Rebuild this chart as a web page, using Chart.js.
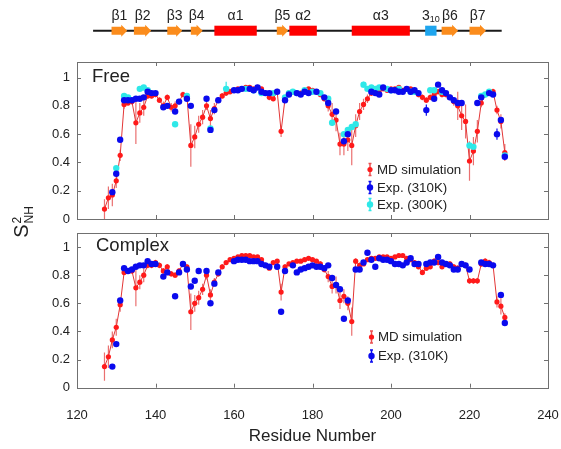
<!DOCTYPE html>
<html>
<head>
<meta charset="utf-8">
<script src="https://cdn.jsdelivr.net/npm/chart.js@4.4.1/dist/chart.umd.min.js"></script>
<style>
  body { margin: 0; background: #fff; }
  #wrap { position: relative; width: 561px; height: 449px; overflow: hidden;
          font-family: "Liberation Sans", Arial, sans-serif; color: #222; }
  canvas { position: absolute; left: 0; }
  .lbl { position: absolute; white-space: nowrap; line-height: 1; }
  .ssl { top: 8px; font-size: 14px; transform: translateX(-50%); }
  .ssl sub { font-size: 9px; vertical-align: -2px; }
  .panel { font-size: 18.5px; }
  .leg { font-size: 13.3px; }
  #ylab { left: 23px; top: 222px; font-size: 20px; transform: translate(-50%, -50%) rotate(-90deg); }
  #ylab .ss { display: inline-block; vertical-align: -5px; font-size: 12px; line-height: 1; text-align: left; margin-left: 1px; }
  #ylab .ss span { display: block; }
</style>
</head>
<body>
<div id="wrap">
  <canvas id="ss" width="561" height="50" style="top:0"></canvas>
  <canvas id="free" width="561" height="172" style="top:52px"></canvas>
  <canvas id="cplx" width="561" height="223" style="top:226px"></canvas>

  <div class="lbl panel" style="left:92px;top:67px">Free</div>
  <div class="lbl panel" style="left:96px;top:236px">Complex</div>

  <div class="lbl leg" style="left:377px;top:163px">MD simulation</div>
  <div class="lbl leg" style="left:377px;top:181px">Exp. (310K)</div>
  <div class="lbl leg" style="left:377px;top:198px">Exp. (300K)</div>
  <div class="lbl leg" style="left:378px;top:330px">MD simulation</div>
  <div class="lbl leg" style="left:378px;top:349px">Exp. (310K)</div>

  <div id="ylab" class="lbl">S<span class="ss"><span>2</span><span>NH</span></span></div>
</div>
<script>
// residue axis
const xTicks = [120, 140, 160, 180, 200, 220, 240];
const yTicks = [0, 0.2, 0.4, 0.6, 0.8, 1];

// secondary structure
const ssNames = ['β1', 'β2', 'β3', 'β4', 'α1', 'β5', 'α2', 'α3', '3<sub>10</sub>', 'β6', 'β7'];
const ssStart = [128.8, 134.5, 143.0, 149.0, 155.0, 170.9, 174.1, 190.0, 208.7, 212.9, 220.0];
const ssEnd   = [132.8, 138.9, 146.8, 152.0, 165.8, 173.8, 181.1, 204.8, 211.6, 217.1, 224.2];
const ssKind  = ['strand', 'strand', 'strand', 'strand', 'helix', 'strand', 'helix', 'helix', '310', 'strand', 'strand'];
const chainRange = [124.1, 228.2];

// MD simulation, residues 127-229
const mdRes = [
  127,128,129,130,131,132,133,134,135,136,
  137,138,139,140,141,142,143,144,145,146,
  147,148,149,150,151,152,153,154,155,156,
  157,158,159,160,161,162,163,164,165,166,
  167,168,169,170,171,172,173,174,175,176,
  177,178,179,180,181,182,183,184,185,186,
  187,188,189,190,191,192,193,194,195,196,
  197,198,199,200,201,202,203,204,205,206,
  207,208,209,210,211,212,213,214,215,216,
  217,218,219,220,221,222,223,224,225,226,
  227,228,229
];
const mdFree = [
  0.07,0.15,0.17,0.27,0.45,0.81,0.82,0.83,0.68,0.75,
  0.79,0.87,0.87,0.88,0.84,0.80,0.86,0.79,0.80,0.83,
  0.88,0.87,0.52,0.58,0.67,0.72,0.80,0.71,0.78,0.84,
  0.87,0.89,0.90,0.91,0.92,0.92,0.93,0.93,0.92,0.93,
  0.92,0.89,0.86,0.85,0.90,0.62,0.85,0.89,0.90,0.89,
  0.89,0.91,0.92,0.91,0.90,0.88,0.85,0.80,0.74,0.70,
  0.53,0.53,0.56,0.52,0.66,0.76,0.81,0.85,0.89,0.91,
  0.91,0.92,0.91,0.92,0.92,0.93,0.91,0.92,0.92,0.91,
  0.88,0.86,0.84,0.86,0.88,0.90,0.88,0.88,0.86,0.83,
  0.80,0.73,0.69,0.41,0.48,0.62,0.82,0.88,0.89,0.90,
  0.77,0.69,0.47
];
const mdFreeErr = [
  0.07,0.08,0.08,0.05,0.04,0.03,0.02,0.02,0.15,0.07,
  0.06,0.02,0.02,0.02,0.02,0.03,0.02,0.03,0.03,0.02,
  0.02,0.02,0.15,0.08,0.06,0.05,0.03,0.06,0.04,0.02,
  0.02,0.02,0.02,0.01,0.01,0.01,0.01,0.01,0.01,0.01,
  0.01,0.02,0.02,0.02,0.02,0.04,0.02,0.01,0.01,0.01,
  0.01,0.01,0.01,0.01,0.01,0.02,0.02,0.04,0.08,0.08,
  0.08,0.08,0.08,0.14,0.08,0.06,0.04,0.03,0.02,0.01,
  0.01,0.01,0.01,0.01,0.01,0.01,0.01,0.01,0.01,0.01,
  0.02,0.02,0.02,0.02,0.02,0.02,0.02,0.02,0.02,0.03,
  0.10,0.10,0.12,0.14,0.10,0.08,0.03,0.02,0.02,0.02,
  0.03,0.05,0.06
];
const mdCplx = [
  0.15,0.22,0.34,0.43,0.59,0.82,0.83,0.83,0.71,0.75,
  0.80,0.87,0.87,0.89,0.87,0.83,0.86,0.81,0.80,0.83,
  0.88,0.86,0.54,0.60,0.64,0.70,0.80,0.66,0.75,0.81,
  0.86,0.89,0.91,0.92,0.93,0.94,0.94,0.94,0.93,0.93,
  0.91,0.87,0.85,0.89,0.90,0.68,0.86,0.88,0.89,0.90,
  0.90,0.91,0.92,0.91,0.90,0.88,0.84,0.79,0.72,0.73,
  0.62,0.65,0.60,0.47,0.90,0.87,0.88,0.91,0.92,0.92,
  0.93,0.93,0.93,0.92,0.93,0.94,0.94,0.92,0.91,0.89,
  0.86,0.82,0.85,0.86,0.90,0.89,0.86,0.88,0.88,0.86,
  0.85,0.88,0.87,0.76,0.76,0.76,0.88,0.90,0.89,0.87,
  0.61,0.58,0.50
];
const mdCplxErr = [
  0.10,0.08,0.06,0.06,0.05,0.02,0.02,0.02,0.13,0.05,
  0.05,0.02,0.02,0.02,0.02,0.02,0.02,0.02,0.02,0.02,
  0.02,0.02,0.13,0.06,0.05,0.04,0.03,0.04,0.03,0.02,
  0.02,0.01,0.01,0.01,0.01,0.01,0.01,0.01,0.01,0.01,
  0.01,0.01,0.01,0.01,0.01,0.06,0.02,0.01,0.01,0.01,
  0.01,0.01,0.01,0.01,0.01,0.02,0.02,0.04,0.05,0.06,
  0.06,0.05,0.05,0.10,0.02,0.02,0.01,0.01,0.01,0.01,
  0.01,0.01,0.01,0.01,0.01,0.01,0.01,0.01,0.01,0.01,
  0.02,0.02,0.02,0.02,0.02,0.02,0.02,0.02,0.02,0.02,
  0.02,0.02,0.02,0.02,0.02,0.02,0.02,0.02,0.02,0.02,
  0.04,0.06,0.03
];

// experiment, free, 310K
const expFree310Res = [129,130,131,132,133,134,135,136,137,138,139,140,142,143,145,146,148,149,153,154,155,156,
  160,161,162,164,165,166,167,168,169,171,173,174,176,177,178,179,181,183,184,186,188,189,
  195,196,197,198,200,201,202,203,204,205,206,207,209,211,212,213,214,215,216,217,218,222,223,225,226,227,228,229];
const expFree310 = [0.19,0.32,0.56,0.84,0.84,0.84,0.85,0.85,0.86,0.90,0.89,0.89,0.79,0.80,0.76,0.83,0.85,0.80,0.85,0.63,0.77,0.84,
  0.91,0.91,0.92,0.92,0.91,0.93,0.90,0.89,0.89,0.90,0.84,0.88,0.89,0.88,0.90,0.89,0.90,0.86,0.82,0.76,0.55,0.60,
  0.90,0.89,0.88,0.93,0.91,0.91,0.90,0.90,0.92,0.90,0.91,0.89,0.77,0.85,0.95,0.91,0.89,0.86,0.84,0.82,0.82,0.82,0.86,0.89,0.88,0.60,0.70,0.44];

// experiment, free, 300K
const expFree300Res = [130,132,133,136,137,138,145,148,154,158,163,165,167,170,173,174,175,176,178,180,182,184,185,
  188,189,190,191,193,194,195,196,197,199,200,202,205,206,210,211,213,220,221,223,224,225,229];
const expFree300 = [0.36,0.87,0.86,0.92,0.93,0.91,0.67,0.87,0.64,0.92,0.92,0.91,0.89,0.89,0.86,0.89,0.90,0.89,0.91,0.90,0.89,0.85,0.68,
  0.60,0.63,0.65,0.67,0.95,0.92,0.93,0.92,0.93,0.92,0.91,0.92,0.90,0.90,0.91,0.91,0.90,0.52,0.51,0.87,0.88,0.90,0.45];

// experiment, complex, 310K
const expCplx310Res = [129,130,131,132,133,134,135,136,137,138,139,140,142,143,145,146,147,148,149,150,151,153,154,155,156,
  160,161,162,163,164,165,166,167,168,169,171,172,173,175,176,177,178,179,180,181,182,183,184,185,186,187,188,189,
  191,192,193,194,195,196,197,198,199,200,201,202,203,204,205,206,207,209,210,211,212,213,214,215,216,217,218,219,220,
  223,224,225,226,228,229];
const expCplx310 = [0.15,0.31,0.62,0.85,0.83,0.84,0.86,0.87,0.87,0.90,0.88,0.88,0.79,0.82,0.65,0.82,0.88,0.84,0.72,0.76,0.83,0.83,0.60,0.74,0.82,
  0.90,0.91,0.91,0.91,0.90,0.90,0.90,0.88,0.87,0.86,0.86,0.54,0.83,0.87,0.82,0.84,0.85,0.86,0.87,0.86,0.86,0.85,0.87,0.78,0.73,0.70,0.49,0.62,
  0.84,0.84,0.89,0.96,0.91,0.86,0.92,0.91,0.91,0.90,0.88,0.88,0.87,0.89,0.92,0.88,0.88,0.88,0.89,0.89,0.93,0.89,0.88,0.87,0.84,0.84,0.88,0.87,0.84,
  0.89,0.88,0.88,0.87,0.66,0.46];

// a few visible experimental error bars
const expFree310ErrRes = [209, 227, 154];
const expFree310ErrVal = [0.04, 0.04, 0.02];
const expFree300ErrRes = [158, 193];
const expFree300ErrVal = [0.05, 0.02];

const FONT = "'Liberation Sans', Arial, sans-serif";
const RED = '#ff1a1a', BLUE = '#0a0aee', CYAN = '#2ee8e8';

function pts(xs, ys) { return xs.map((x, i) => ({ x: x, y: ys[i] })); }
function sparseErr(xs, errRes, errVal) {
  return xs.map((x) => { const k = errRes.indexOf(x); return k >= 0 ? errVal[k] : 0; });
}

const errPlugin = {
  id: 'errbars',
  beforeDatasetsDraw(chart) {
    const ctx = chart.ctx, y = chart.scales.y;
    chart.data.datasets.forEach((ds, i) => {
      if (!ds.errs) return;
      const meta = chart.getDatasetMeta(i);
      ctx.save();
      ctx.strokeStyle = ds.errColor;
      ctx.lineWidth = 1.2;
      ctx.beginPath();
      ds.data.forEach((p, j) => {
        const e = ds.errs[j];
        if (!e) return;
        const px = meta.data[j].x;
        ctx.moveTo(px, y.getPixelForValue(p.y - e));
        ctx.lineTo(px, y.getPixelForValue(p.y + e));
      });
      ctx.stroke();
      ctx.restore();
    });
  }
};

const framePlugin = {
  id: 'frame',
  afterDraw(chart) {
    const { ctx, chartArea: a, scales: { x, y } } = chart;
    ctx.save();
    ctx.strokeStyle = '#707070';
    ctx.lineWidth = 1;
    ctx.strokeRect(Math.round(a.left) + 0.5, Math.round(a.top) + 0.5,
                   Math.round(a.right - a.left), Math.round(a.bottom - a.top));
    ctx.beginPath();
    xTicks.forEach((v) => {
      const px = Math.round(x.getPixelForValue(v)) + 0.5;
      ctx.moveTo(px, a.bottom); ctx.lineTo(px, a.bottom - 4);
      ctx.moveTo(px, a.top); ctx.lineTo(px, a.top + 4);
    });
    yTicks.forEach((v) => {
      const py = Math.round(y.getPixelForValue(v)) + 0.5;
      ctx.moveTo(a.left, py); ctx.lineTo(a.left + 4, py);
      ctx.moveTo(a.right, py); ctx.lineTo(a.right - 4, py);
    });
    ctx.stroke();
    // legend markers
    const items = (chart.options.plugins.markers || {}).items || [];
    items.forEach((m) => {
      ctx.strokeStyle = m.bar;
      ctx.lineWidth = 1.5;
      ctx.beginPath();
      ctx.moveTo(m.x, m.y - 6); ctx.lineTo(m.x, m.y + 6);
      ctx.moveTo(m.x - 1.5, m.y - 6); ctx.lineTo(m.x + 1.5, m.y - 6);
      ctx.moveTo(m.x - 1.5, m.y + 6); ctx.lineTo(m.x + 1.5, m.y + 6);
      ctx.stroke();
      ctx.fillStyle = m.color;
      ctx.beginPath();
      ctx.arc(m.x, m.y, m.r, 0, Math.PI * 2);
      ctx.fill();
    });
    ctx.restore();
  }
};

function yScale(max) {
  return {
    min: 0, max: max,
    afterBuildTicks: (s) => { s.ticks = yTicks.map((v) => ({ value: v })); },
    afterFit: (s) => { s.width = 77; s.paddingTop = 0; s.paddingBottom = 0; },
    ticks: { font: { family: FONT, size: 13 }, color: '#222', padding: 7, callback: (v) => String(v) },
    grid: { display: false, drawTicks: false },
    border: { display: false }
  };
}

function mdSet(vals, errs) {
  return {
    data: pts(mdRes, vals), showLine: true, borderColor: '#e33636', borderWidth: 1,
    pointRadius: 2.6, pointBackgroundColor: RED, pointBorderWidth: 0, order: 3,
    errs: errs, errColor: '#ea7070'
  };
}
function expSet(xs, vals, color, order, errs) {
  return {
    data: pts(xs, vals), showLine: false, pointRadius: 3.2, pointBackgroundColor: color,
    pointBorderWidth: 0, order: order, errs: errs, errColor: color
  };
}

// secondary-structure strip
const ssChart = new Chart(document.getElementById('ss'), {
  type: 'scatter',
  data: { datasets: [{
    data: [{ x: chainRange[0], y: 0 }, { x: chainRange[1], y: 0 }],
    showLine: true, borderColor: '#1a1a1a', borderWidth: 2, pointRadius: 0
  }] },
  options: {
    responsive: false, animation: false,
    layout: { padding: { left: 77, right: 13, top: 20, bottom: 8.6 } },
    plugins: { legend: { display: false }, tooltip: { enabled: false } },
    scales: {
      x: { type: 'linear', min: 120, max: 240, display: false },
      y: { min: -1, max: 1, display: false }
    }
  },
  plugins: [{
    id: 'ssShapes',
    afterDatasetsDraw(chart) {
      const { ctx, scales: { x, y } } = chart;
      const cy = y.getPixelForValue(0);
      ssKind.forEach((k, i) => {
        const x0 = x.getPixelForValue(ssStart[i]), x1 = x.getPixelForValue(ssEnd[i]);
        ctx.save();
        if (k === 'strand') {
          const head = 6;
          ctx.fillStyle = '#fb8c1c';
          ctx.beginPath();
          ctx.moveTo(x0, cy - 4); ctx.lineTo(x1 - head, cy - 4); ctx.lineTo(x1 - head, cy - 6);
          ctx.lineTo(x1, cy); ctx.lineTo(x1 - head, cy + 6); ctx.lineTo(x1 - head, cy + 4);
          ctx.lineTo(x0, cy + 4); ctx.closePath();
          ctx.fill();
        } else {
          ctx.fillStyle = k === 'helix' ? '#ff0000' : '#1ea5ee';
          ctx.fillRect(x0, cy - 5, x1 - x0, 10);
        }
        ctx.restore();
      });
    }
  }]
});

const wrap = document.getElementById('wrap');
ssNames.forEach((n, i) => {
  const d = document.createElement('div');
  d.className = 'lbl ssl';
  d.innerHTML = n;
  d.style.left = ssChart.scales.x.getPixelForValue((ssStart[i] + ssEnd[i]) / 2) + 'px';
  wrap.appendChild(d);
});

// Free panel
new Chart(document.getElementById('free'), {
  type: 'scatter',
  data: { datasets: [
    mdSet(mdFree, mdFreeErr),
    expSet(expFree300Res, expFree300, CYAN, 2, sparseErr(expFree300Res, expFree300ErrRes, expFree300ErrVal)),
    expSet(expFree310Res, expFree310, BLUE, 1, sparseErr(expFree310Res, expFree310ErrRes, expFree310ErrVal))
  ] },
  options: {
    responsive: false, animation: false,
    layout: { padding: { left: 0, right: 13, top: 10, bottom: 5 } },
    plugins: {
      legend: { display: false }, tooltip: { enabled: false },
      markers: { items: [
        { x: 370, y: 117.5, color: RED, bar: '#ea5050', r: 2.6 },
        { x: 370, y: 135.5, color: BLUE, bar: BLUE, r: 3.2 },
        { x: 370, y: 152.5, color: CYAN, bar: CYAN, r: 3.2 }
      ] }
    },
    scales: {
      x: { type: 'linear', min: 120, max: 240, display: false },
      y: yScale(1.11)
    }
  },
  plugins: [errPlugin, framePlugin]
});

// Complex panel
new Chart(document.getElementById('cplx'), {
  type: 'scatter',
  data: { datasets: [
    mdSet(mdCplx, mdCplxErr),
    expSet(expCplx310Res, expCplx310, BLUE, 1, null)
  ] },
  options: {
    responsive: false, animation: false,
    layout: { padding: { left: 0, right: 13, top: 7, bottom: 0 } },
    plugins: {
      legend: { display: false }, tooltip: { enabled: false },
      markers: { items: [
        { x: 371.5, y: 111, color: RED, bar: '#ea5050', r: 2.6 },
        { x: 371.5, y: 130, color: BLUE, bar: BLUE, r: 3.2 }
      ] }
    },
    scales: {
      x: {
        type: 'linear', min: 120, max: 240,
        afterBuildTicks: (s) => { s.ticks = xTicks.map((v) => ({ value: v })); },
        afterFit: (s) => { s.height = 61.3; s.paddingLeft = 0; s.paddingRight = 0; },
        ticks: { font: { family: FONT, size: 13 }, color: '#222', padding: 20, maxRotation: 0 },
        grid: { display: false, drawTicks: false },
        border: { display: false },
        title: { display: true, text: 'Residue Number', font: { family: FONT, size: 17 }, color: '#222', padding: { top: 0, bottom: 2 } }
      },
      y: yScale(1.10)
    }
  },
  plugins: [errPlugin, framePlugin]
});
</script>
</body>
</html>
